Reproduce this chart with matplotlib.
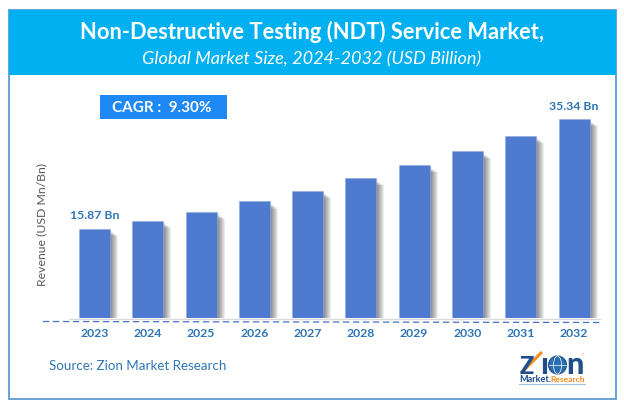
import matplotlib
matplotlib.use("Agg")
import matplotlib.pyplot as plt
from matplotlib.patches import Rectangle, Circle, Ellipse

plt.rcParams["font.family"] = ["Lato", "DejaVu Sans"]

years = ["2023", "2024", "2025", "2026", "2027", "2028", "2029", "2030", "2031", "2032"]
revenue = [15.87, 17.3, 18.9, 20.7, 22.6, 24.8, 27.1, 29.6, 32.4, 35.34]
value_labels = {0: "15.87 Bn", 9: "35.34 Bn"}

W, H = 624, 409
BLUE = "#4e7bd0"
TEXT_BLUE = "#2e75b6"
LOGO_BLUE = "#1f4e8c"
LOGO_ORANGE = "#f28c1e"

fig = plt.figure(figsize=(W / 100, H / 100), dpi=100)

# page furniture, in pixel coordinates
bg = fig.add_axes([0, 0, 1, 1])
bg.set_xlim(0, W)
bg.set_ylim(H, 0)
bg.axis("off")
bg.add_patch(Rectangle((8.5, 9.5), 607.5, 389.5, fc="white", ec="#5b9bd5", lw=1.3))
bg.add_patch(Rectangle((8.5, 9.5), 607.5, 65.5, fc="#00b0f0", ec="none"))
bg.text(312.5, 31.5, "Non-Destructive Testing (NDT) Service Market,", color="white",
        fontsize=15.75, fontweight="bold", ha="center", va="center")
bg.text(311.5, 59, "Global Market Size, 2024-2032 (USD Billion)", color="white",
        fontsize=13.1, style="italic", ha="center", va="center")
bg.add_patch(Rectangle((100, 95), 127, 24, fc="#1e88f5", ec="none"))
bg.text(162, 107.5, "CAGR :  9.30%", color="white", fontsize=11, fontweight="bold",
        ha="center", va="center")
bg.text(49, 365.5, "Source: Zion Market Research", color=TEXT_BLUE, fontsize=9.6,
        ha="left", va="center")
bg.text(42, 224, "Revenue (USD Mn/Bn)", color="#595959", fontsize=8.8, rotation=90,
        ha="center", va="center")
bg.plot([69, 600], [318.5, 318.5], color="#d9d9d9", lw=1, zorder=1)
bg.plot([43, 600], [321.5, 322.5], color="#4472c4", lw=0.9, ls=(0, (5, 3)), zorder=1)

# logo
bg.text(520, 374, "Z", color=LOGO_BLUE, fontsize=17, fontweight="black", ha="left", va="baseline")
bg.plot([521, 542], [373, 352], color=LOGO_ORANGE, lw=2.2, solid_capstyle="butt")
bg.plot([545, 545], [358, 374], color=LOGO_BLUE, lw=3, solid_capstyle="butt")
bg.add_patch(Circle((557.5, 365), 9, fc="#2a6fb0", ec=LOGO_BLUE, lw=0.8))
bg.add_patch(Ellipse((557.5, 365), 8, 18, fc="none", ec="white", lw=0.5))
bg.plot([549, 566], [365, 365], color="white", lw=0.5)
bg.text(566.5, 374, "n", color=LOGO_BLUE, fontsize=22, fontweight="black", ha="left", va="baseline")
bg.add_patch(Circle((583, 354), 1.5, fc="#fbe0c0", ec="none"))
bg.text(519.5, 379.5, "Market.", color=LOGO_BLUE, fontsize=6.6, fontweight="bold", ha="left", va="center")
bg.text(585, 379.5, "Research", color=LOGO_ORANGE, fontsize=6.1, fontweight="bold", ha="right", va="center")
bg.plot([519, 585], [383.5, 383.5], color="#9dc3e6", lw=0.8)

# chart axes: px 44..600 across, baseline at px 318
px_per_cat = 53.28
px_per_value = 5.631
left_px, right_px, base_px, top_px = 44, 600, 318, 100
ax = fig.add_axes([left_px / W, 1 - base_px / H, (right_px - left_px) / W, (base_px - top_px) / H])
ax.patch.set_alpha(0)
ax.set_xlim((left_px - 94.5) / px_per_cat, (right_px - 94.5) / px_per_cat)
ax.set_ylim(0, (base_px - top_px) / px_per_value)

positions = list(range(len(years)))
bar_w = 31 / px_per_cat

# soft shadow to the right of each bar, outer layers start lower
for s in range(1, 9):
    off = s / px_per_cat
    drop = (1.5 + s * 0.7) / px_per_value
    ax.bar([p + off for p in positions], [v - drop for v in revenue], width=bar_w,
           color="black", alpha=0.07, lw=0, zorder=2)

ax.bar(positions, revenue, width=bar_w, color=BLUE, edgecolor="#8faadc", lw=0.4, zorder=3)

for i, label in value_labels.items():
    ax.annotate(label, (i, revenue[i]), xytext=(0, 13 / 100 * 72), textcoords="offset points",
                ha="center", va="center", color=TEXT_BLUE, fontsize=8.8, fontweight="bold")

ax.set_xticks(positions)
ax.set_xticklabels(years, color=TEXT_BLUE, fontsize=8.8, fontweight="bold")
ax.tick_params(axis="x", length=0, pad=7)
ax.set_yticks([])
for spine in ax.spines.values():
    spine.set_visible(False)

fig.savefig("out.png", dpi=100, facecolor="white")
